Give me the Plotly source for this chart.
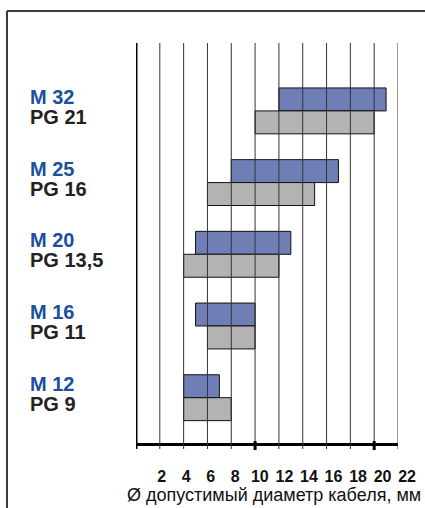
import plotly.graph_objects as go

# ---- data ----
metric_labels = ["M 12", "M 16", "M 20", "M 25", "M 32"]
pg_labels = ["PG 9", "PG 11", "PG 13,5", "PG 16", "PG 21"]
metric_min = [4, 5, 5, 8, 12]
metric_max = [7, 10, 13, 17, 21]
pg_min = [4, 6, 4, 6, 10]
pg_max = [8, 10, 12, 15, 20]
tick_values = [2, 4, 6, 8, 10, 12, 14, 16, 18, 20, 22]
grid_values = [0] + tick_values
major_ticks = [10, 20]
axis_title = "Ø допустимый диаметр кабеля, мм"

# ---- layout geometry (pixels) ----
W, H = 425, 508
L, R, T, B = 136, 5, 43, 65
PW, PH = W - L - R, H - T - B
PLOT_RIGHT = 398


def px_x(p):
    return (p - L) / PW


def px_y(p):
    return (H - B - p) / PH


FONT = "Liberation Sans, Arial, Helvetica, sans-serif"
BLUE = "#6f7fb5"
GREY = "#b3b3b3"
LABEL_BLUE = "#1c4f9c"
LABEL_DARK = "#222222"

groups = list(range(len(metric_labels)))
OFF = 0.16
BW = 0.32

fig = go.Figure()
fig.add_trace(go.Bar(
    y=[g + OFF for g in groups],
    x=[b - a for a, b in zip(metric_min, metric_max)],
    base=metric_min,
    orientation="h", width=BW,
    marker=dict(color=BLUE, line=dict(color="#111", width=1)),
    showlegend=False, hoverinfo="skip",
))
fig.add_trace(go.Bar(
    y=[g - OFF for g in groups],
    x=[b - a for a, b in zip(pg_min, pg_max)],
    base=pg_min,
    orientation="h", width=BW,
    marker=dict(color=GREY, line=dict(color="#111", width=1)),
    showlegend=False, hoverinfo="skip",
))
# invisible trace to hold the tick-label axis
fig.add_trace(go.Scatter(x=[None], y=[None], xaxis="x2", yaxis="y",
                         mode="markers", showlegend=False, hoverinfo="skip"))

shapes = []
for v in grid_values:
    shapes.append(dict(type="line", xref="x", yref="paper", x0=v, x1=v,
                       y0=px_y(449), y1=1,
                       line=dict(color="#000" if v == 0 else "#333333",
                                 width=3 if v == 0 else 1),
                       layer="above"))
for v in major_ticks:
    shapes.append(dict(type="line", xref="x", yref="paper", x0=v, x1=v,
                       y0=px_y(450), y1=px_y(441),
                       line=dict(color="#000", width=3), layer="above"))
# frame
shapes.append(dict(type="line", xref="paper", yref="paper",
                   x0=px_x(7), x1=px_x(430), y0=px_y(11), y1=px_y(11),
                   line=dict(color="#3c3c3c", width=2)))
shapes.append(dict(type="line", xref="paper", yref="paper",
                   x0=px_x(7), x1=px_x(7), y0=px_y(11), y1=px_y(520),
                   line=dict(color="#3c3c3c", width=2)))

annotations = []
for g, m, p in zip(groups, metric_labels, pg_labels):
    annotations.append(dict(text=m, xref="paper", yref="y", x=px_x(28), y=g,
                            xanchor="left", yanchor="middle", yshift=14,
                            showarrow=False,
                            font=dict(family=FONT, size=20, color=LABEL_BLUE, weight="bold")))
    annotations.append(dict(text=p, xref="paper", yref="y", x=px_x(28), y=g,
                            xanchor="left", yanchor="middle", yshift=-6,
                            showarrow=False,
                            font=dict(family=FONT, size=20, color=LABEL_DARK, weight="bold")))
annotations.append(dict(text=axis_title, xref="paper", yref="paper",
                        x=px_x(423), y=px_y(495), xanchor="right", yanchor="middle",
                        showarrow=False,
                        font=dict(family=FONT, size=18, color="#111")))

LABEL_START_PX = 161.7
LABEL_STEP = 12.27
x2_range = [2 - (LABEL_START_PX - L) / LABEL_STEP,
            2 + (W - R - LABEL_START_PX) / LABEL_STEP]

fig.update_layout(
    width=W, height=H,
    margin=dict(l=L, r=R, t=T, b=B),
    paper_bgcolor="white", plot_bgcolor="rgba(0,0,0,0)",
    barmode="overlay",
    xaxis=dict(range=[0, 22], domain=[0, px_x(PLOT_RIGHT)], showgrid=False,
               zeroline=False, showticklabels=False, ticks="",
               showline=True, linewidth=3, linecolor="#000", layer="above traces"),
    xaxis2=dict(range=x2_range, domain=[0, 1], anchor="y", side="bottom",
                showgrid=False, zeroline=False, showline=False, ticks="",
                tickvals=tick_values, ticklabelstandoff=22,
                tickfont=dict(family=FONT, size=16, color="#111", weight="bold")),
    yaxis=dict(range=[-0.632, 4.947], showgrid=False, zeroline=False,
               showticklabels=False, ticks="", showline=False),
    shapes=shapes,
    annotations=annotations,
)

fig.write_html("out.html", config={"displayModeBar": False},
               post_script="document.body.style.margin='0';document.body.style.overflow='hidden';")
